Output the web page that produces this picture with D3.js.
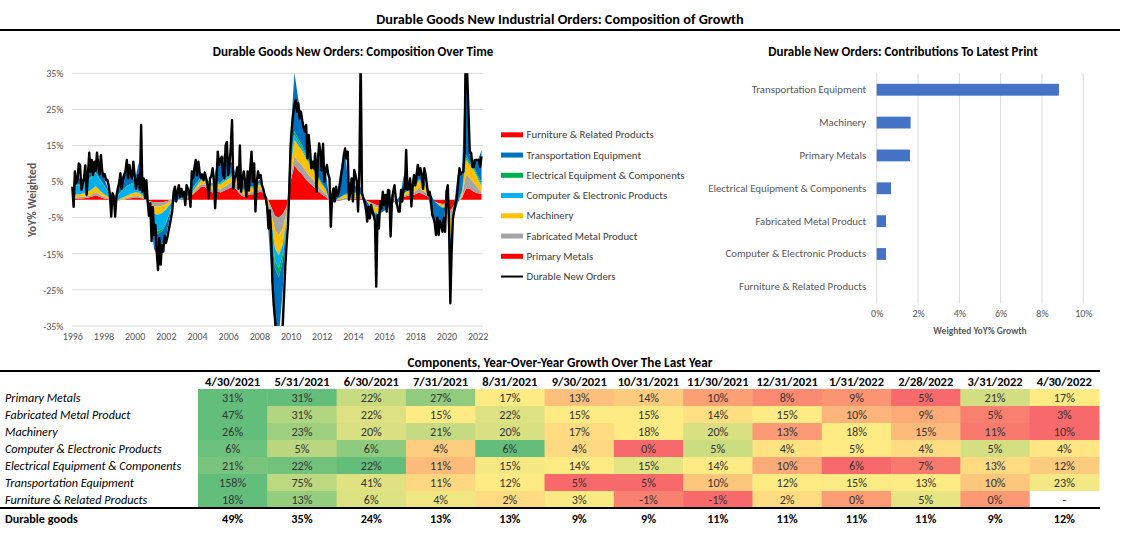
<!DOCTYPE html>
<html>
<head lang="en">
  <meta charset="UTF-8">
  <title>Durable Goods New Industrial Orders: Composition of Growth</title>
  <script src="https://cdn.jsdelivr.net/npm/d3@7"></script>
</head>
<style>
  body { margin: 0; background: #fff; }
  #chart text { font-family: Carlito, Calibri, Lato, sans-serif; }
</style>
<body>

<svg id="chart" width="1126" height="533"></svg>

<script>
  // ---- data: total weighted YoY (monthly, Jan 1996 - Apr 2022) ----
  var totalYoY = [
    3.6, -2.0, 7.8, 4.5, 5.4, 10.0, 9.6, 2.7, 4.5, 6.0, 9.5, 1.3,       // 1996
    6.8, 13.0, 7.8, 11.0, 6.8, 10.5, 8.0, 13.0, 9.6, 7.0, 12.4, 8.0,    // 1997
    6.4, 7.0, 5.4, 5.5, 4.0, 1.3, -4.7, 1.8, 0.8, -4.7, 1.0, 3.0,       // 1998
    4.5, 7.3, 3.0, 5.4, 6.8, 8.0, 11.0, 5.9, 9.6, 7.0, 5.9, 10.5,       // 1999
    6.8, 3.0, 5.0, 6.8, 2.7, 20.7, 2.2, 5.9, 0.4, 5.4, -0.5, -4.5,      // 2000
    -1.0, -11.5, -2.0, -9.8, -7.0, -14.4, -19.5, -10.7, -18.0, -12.6, -14.4, -10.0, // 2001
    -12.0, -10.7, -9.0, -7.0, -5.2, -3.0, 2.0, 3.6, -0.5, 2.2, 4.0, 0.8, // 2002
    3.0, 1.0, 2.2, -1.5, 4.0, 3.0, 2.2, -2.0, 7.8, 6.0, 8.7, 11.0,      // 2003
    6.8, 10.5, 7.8, 6.0, 7.0, 5.4, 7.5, 6.0, 4.0, 0.4, 5.9, 6.5,        // 2004
    8.7, 5.0, -2.4, 5.0, 13.3, 9.6, 11.0, 11.9, 7.0, 5.9, 15.0, 16.0,   // 2005
    6.8, 10.0, 14.2, 22.0, 3.0, 6.0, 6.8, 9.0, 3.0, 15.0, 2.2, 6.0,     // 2006
    7.8, 5.0, 0.8, 7.8, 2.5, 8.7, 13.3, 5.0, 10.0, -3.3, 5.0, 7.8,      // 2007
    6.0, 6.8, 4.0, 3.0, 1.3, 0.4, -2.0, -8.0, -3.0, -9.0, -22.7, -29.0, // 2008
    -33.0, -38.0, -40.0, -40.0, -38.0, -36.0, -34.7, -26.4, -18.0, -12.0, -7.0, 2.2, // 2009
    15.0, 20.0, 23.5, 26.2, 27.6, 24.4, 26.7, 22.5, 24.4, 22.0, 20.0, 18.8, // 2010
    20.7, 11.4, 17.9, 14.0, 8.7, 10.5, 8.7, 12.8, 2.2, 10.5, 15.6, 13.3, // 2011
    8.0, 15.5, 5.0, 8.0, 9.6, 7.0, 5.9, -7.5, 1.0, 3.1, -0.5, 3.6,      // 2012
    1.0, 2.0, 4.0, 6.8, 9.0, 12.4, 14.2, 11.4, 13.3, 0.0, 2.2, 5.9,     // 2013
    -0.5, 8.2, 6.8, 5.0, -3.3, 8.0, 40.0, 2.0, 0.4, -0.5, -2.0, -6.1,   // 2014
    -2.0, -5.2, -1.5, -3.0, -4.3, -6.0, -24.1, -4.3, -8.0, -0.5, -2.4, 2.2, // 2015
    -1.5, 1.3, -3.3, 2.7, 2.5, -10.2, -1.0, 2.2, 4.0, 0.4, -1.5, -3.3,  // 2016
    -3.3, 2.7, -0.5, 3.1, 3.0, 13.8, 2.7, 3.1, 5.9, -1.9, 4.0, 6.8,     // 2017
    4.0, 7.0, 9.6, 6.8, 8.7, 7.0, 3.0, 8.7, 6.8, 4.0, 1.3, 2.2,         // 2018
    0.4, -4.2, -5.0, -6.5, -9.8, -5.0, -9.8, -6.0, -7.0, -8.9, -5.0, -8.9, // 2019
    2.2, 4.0, -6.0, -28.7, -14.4, -5.2, -3.0, -1.0, 0.4, 5.0, 8.7, 7.0, // 2020
    7.5, 7.8, 13.3, 49.0, 35.0, 24.0, 13.0, 13.0, 9.0, 9.0, 11.0, 11.0, // 2021
    11.0, 11.0, 9.0, 12.0                                                // 2022
  ];

  // ---- data: weighted contributions (quarterly samples: Jan/Apr/Jul/Oct) ----
  var primaryMetals = [
    0.3, 0.3, 0.3, 0.4,   0.5, 0.8, 1.2, 0.8,   0.4, 0.2, 0.0, -0.2,  -0.2, 0.0, 0.2, 0.4,
    0.5, 0.5, 0.3, 0.0,   -0.5, -0.7, -0.8, -0.7,  -0.5, -0.2, 0.0, 0.0,  0.1, 0.2, 0.5, 1.5,
    2.5, 3.5, 3.5, 2.5,   2.0, 2.5, 2.0, 2.5,   3.0, 3.5, 3.0, 1.5,   0.8, 1.2, 1.5, 1.5,
    2.2, 2.0, 0.5, -2.0,  -4.5, -5.0, -4.0, -2.0,  5.0, 9.5, 8.0, 7.0,  5.5, 4.5, 3.5, 2.5,
    1.5, 0.8, -0.3, -0.5,  -0.3, -0.2, 0.0, 0.1,  0.2, 0.3, 0.3, 0.0,  -0.5, -1.0, -1.5, -1.5,
    -1.2, -0.8, -0.3, 0.0,  0.5, 0.8, 1.0, 1.2,  1.5, 2.0, 1.5, 1.0,  0.3, -0.5, -1.0, -1.2,
    -1.0, -3.0, -1.5, -0.5,  0.5, 3.0, 3.0, 2.2,  1.8, 1.6
  ];
  var fabricatedMetal = [
    0.3, 0.3, 0.4, 0.4,   0.5, 0.5, 0.8, 0.6,   0.4, 0.3, 0.1, 0.0,   0.1, 0.2, 0.3, 0.4,
    0.5, 0.5, 0.3, 0.0,   -0.4, -1.2, -1.2, -1.0,  -0.8, -0.4, 0.0, 0.0,  0.0, 0.0, 0.1, 0.4,
    0.6, 0.8, 0.8, 0.8,   0.8, 0.8, 0.8, 1.0,   1.2, 1.5, 1.5, 1.0,   0.6, 0.6, 0.6, 0.6,
    0.8, 0.6, 0.0, -1.5,  -4.0, -5.0, -4.0, -1.5,  1.5, 2.5, 2.5, 2.5,  2.3, 2.0, 1.8, 1.5,
    1.2, 1.0, 0.5, 0.3,   0.3, 0.4, 0.5, 0.5,   0.6, 0.6, 0.5, 0.3,   -0.2, -0.5, -0.7, -0.7,
    -0.6, -0.5, -0.3, -0.1,  0.1, 0.3, 0.5, 0.6,  0.8, 1.3, 1.0, 0.8,  0.3, 0.0, -0.2, -0.4,
    -0.5, -3.0, -1.0, -0.2,  0.5, 4.0, 3.0, 2.5,  1.5, 0.45
  ];
  var machinery = [
    0.5, 0.8, 0.8, 1.0,   1.2, 1.5, 1.8, 1.2,   0.8, 0.5, 0.0, -0.2,  0.2, 0.4, 0.6, 0.8,
    1.0, 1.0, 0.6, 0.0,   -0.8, -2.0, -2.2, -2.0,  -1.5, -0.8, -0.2, 0.0,  0.0, 0.0, 0.2, 0.5,
    0.8, 1.0, 1.0, 1.0,   1.0, 1.2, 1.3, 1.5,   1.5, 1.5, 1.5, 1.2,   1.0, 1.2, 1.2, 1.2,
    1.2, 0.6, -0.5, -2.5,  -5.0, -5.5, -4.5, -1.5,  2.5, 4.5, 4.5, 4.0,  3.5, 3.0, 2.5, 2.0,
    1.5, 1.0, 0.0, -0.3,  0.2, 0.5, 0.8, 0.8,   1.0, 0.8, 0.5, 0.2,   -0.5, -1.5, -1.5, -1.3,
    -1.0, -0.8, -0.5, -0.3,  0.2, 0.5, 0.8, 1.0,  1.3, 2.0, 1.5, 1.2,  0.5, 0.0, -0.3, -0.6,
    -0.8, -4.0, -1.5, 0.0,  1.0, 4.0, 3.5, 3.5,  2.5, 1.65
  ];
  var computerElectronic = [
    1.5, 2.5, 2.5, 2.5,   3.0, 3.5, 3.5, 3.0,   2.5, 1.5, 0.3, -0.5,  1.5, 2.0, 2.5, 2.5,
    2.5, 3.0, 2.0, 0.5,   -1.5, -4.0, -4.5, -4.5,  -3.5, -2.0, -0.5, 0.0,  0.3, 0.3, 0.5, 0.8,
    0.8, 0.8, 0.6, 0.5,   0.4, 0.4, 0.4, 0.5,   0.5, 0.5, 0.4, 0.3,   0.3, 0.3, 0.2, 0.2,
    0.3, 0.2, -0.3, -1.2,  -3.5, -3.5, -2.5, -0.5,  1.2, 1.5, 1.0, 0.8,  0.5, 0.3, 0.3, 0.2,
    0.2, 0.0, -0.3, -0.3,  0.0, 0.1, 0.1, 0.1,   0.1, 0.1, 0.1, 0.0,   0.0, -0.2, -0.3, -0.2,
    -0.2, -0.2, 0.0, 0.0,  0.1, 0.1, 0.1, 0.1,   0.2, 0.2, 0.2, 0.1,   0.0, 0.0, 0.0, 0.0,
    0.1, -0.3, 0.1, 0.2,  0.3, 0.6, 0.4, 0.4,   0.4, 0.45
  ];
  var electricalEquip = [
    0.2, 0.3, 0.3, 0.3,   0.3, 0.3, 0.3, 0.3,   0.2, 0.2, 0.1, 0.0,   0.1, 0.2, 0.2, 0.3,
    0.3, 0.3, 0.2, 0.0,   -0.2, -0.5, -0.7, -0.6,  -0.5, -0.3, 0.0, 0.0,  0.0, 0.0, 0.1, 0.2,
    0.2, 0.2, 0.2, 0.2,   0.2, 0.2, 0.3, 0.3,   0.3, 0.3, 0.3, 0.3,   0.2, 0.2, 0.2, 0.2,
    0.2, 0.1, 0.0, -0.6,  -2.0, -2.5, -2.0, -0.3,  0.5, 1.0, 0.8, 0.8,  0.6, 0.5, 0.4, 0.3,
    0.3, 0.2, 0.0, 0.0,   0.1, 0.1, 0.2, 0.2,   0.2, 0.2, 0.1, 0.0,   0.0, -0.1, -0.2, -0.1,
    -0.1, -0.1, 0.0, 0.0,  0.0, 0.1, 0.1, 0.1,   0.1, 0.2, 0.2, 0.2,   0.1, 0.0, 0.0, -0.1,
    0.0, -0.5, -0.1, 0.0,  0.3, 0.8, 0.6, 0.6,   0.6, 0.7
  ];
  var transportation = [
    0.3, 2.4, 1.3, 1.0,   3.7, 2.8, 2.6, 3.2,   2.0, 0.9, -1.2, 0.7,  3.2, 3.9, 5.0, 3.3,
    0.1, 4.8, -0.6, -0.4,  -1.4, -5.3, -6.0, -3.5,  -3.8, -1.3, 2.4, 2.3,  1.7, 1.3, 1.3, 5.2,
    3.5, 0.3, 0.5, 0.0,   0.0, 4.2, 5.2, 6.8,   3.8, 3.0, 0.0, 3.4,   1.6, 2.8, 5.7, 0.0,
    0.9, 0.0, -3.7, -11.2,  -17.7, -16.5, -8.0, 0.2,  7.3, 16.0, 11.0, 6.4,  5.0, 1.5, 0.5, 6.5,
    5.0, 5.0, -0.2, 3.0,  2.0, 8.5, 11.4, 1.0,  2.7, 1.2, 2.0, -3.4,  -1.7, -1.1, -2.0, 0.5,
    1.9, 0.7, 2.8, -1.1,  -1.3, 4.8, 1.4, 0.0,  3.0, 1.8, 1.8, -0.8,  -4.1, -6.6, -6.1, -5.3,
    2.3, -8.0, 3.0, 8.0,  5.0, 30.0, 2.0, 1.8,  4.0, 8.8
  ];
  var furniture = [
    0.05, 0.1, 0.1, 0.1,  0.1, 0.1, 0.15, 0.1,  0.1, 0.05, 0.05, 0.05,  0.05, 0.1, 0.1, 0.1,
    0.1, 0.1, 0.05, 0.0,  -0.05, -0.1, -0.15, -0.15,  -0.1, -0.05, 0.0, 0.05,  0.0, 0.0, 0.05, 0.05,
    0.1, 0.1, 0.1, 0.05,  0.05, 0.05, 0.1, 0.1,  0.05, 0.0, 0.0, -0.05,  -0.05, -0.05, -0.05, -0.05,
    -0.1, -0.1, -0.1, -0.2,  -0.3, -0.3, -0.2, -0.1,  0.05, 0.1, 0.05, 0.0,  0.0, 0.0, 0.0, 0.0,
    0.05, 0.05, 0.05, 0.05,  0.05, 0.05, 0.05, 0.05,  0.05, 0.05, 0.05, 0.05,  0.05, 0.05, 0.05, 0.05,
    0.05, 0.0, 0.0, 0.0,  0.0, 0.05, 0.05, 0.05,  0.05, 0.05, 0.05, 0.05,  0.05, 0.0, 0.0, 0.0,
    0.0, -0.2, 0.0, 0.05,  0.1, 0.15, 0.05, 0.05,  0.05, 0.0
  ];

  // ---- data: contributions to latest print ----
  var latestCategories = ['Transportation Equipment', 'Machinery', 'Primary Metals',
    'Electrical Equipment & Components', 'Fabricated Metal Product',
    'Computer & Electronic Products', 'Furniture & Related Products'];
  var latestValues = [8.82, 1.64, 1.61, 0.69, 0.45, 0.45, 0];

  // ---- data: component YoY growth table ----
  var tableDates = ['4/30/2021', '5/31/2021', '6/30/2021', '7/31/2021', '8/31/2021', '9/30/2021',
    '10/31/2021', '11/30/2021', '12/31/2021', '1/31/2022', '2/28/2022', '3/31/2022', '4/30/2022'];
  var tableNames = ['Primary Metals', 'Fabricated Metal Product', 'Machinery',
    'Computer & Electronic Products', 'Electrical Equipment & Components',
    'Transportation Equipment', 'Furniture & Related Products'];
  var rowPrimary = [31, 31, 22, 27, 17, 13, 14, 10, 8, 9, 5, 21, 17];
  var rowFabricated = [47, 31, 22, 15, 22, 15, 15, 14, 15, 10, 9, 5, 3];
  var rowMachinery = [26, 23, 20, 21, 20, 17, 18, 20, 13, 18, 15, 11, 10];
  var rowComputer = [6.3, 5.4, 5.9, 3.6, 6.4, 4.0, 0.3, 5.2, 4.3, 4.6, 4.1, 5.1, 4.4];
  var rowElectrical = [21.2, 21.6, 22.4, 11, 14.6, 14, 15.4, 14, 10, 6, 7, 13, 12];
  var rowTransport = [158, 75, 41, 11, 12, 5, 5, 10, 12, 15, 13, 10, 23];
  var rowFurniture = [18, 13, 6, 4, 2, 3, -0.6, -1.3, 2, 0.2, 5, 0.1, null];
  var rowDurable = [49, 35, 24, 13, 13, 9, 9, 11, 11, 11, 11, 9, 12];

  var svg = d3.select('#chart');
  var axisGrey = '#595959';
  var gridGrey = '#d9d9d9';

  // ---- titles ----
  svg.append('text')
    .attr('x', 560).attr('y', 24)
    .attr('text-anchor', 'middle')
    .style('font-size', '14.3px').style('font-weight', 'bold')
    .text('Durable Goods New Industrial Orders: Composition of Growth');
  svg.append('line')
    .attr('x1', 0).attr('x2', 1120).attr('y1', 30).attr('y2', 30)
    .attr('stroke', '#000').attr('stroke-width', 2);

  svg.append('text')
    .attr('x', 353).attr('y', 55.5)
    .attr('text-anchor', 'middle')
    .style('font-size', '13px').style('font-weight', 'bold')
    .text('Durable Goods New Orders: Composition Over Time');
  svg.append('text')
    .attr('x', 903).attr('y', 55.5)
    .attr('text-anchor', 'middle')
    .style('font-size', '13px').style('font-weight', 'bold')
    .text('Durable New Orders: Contributions To Latest Print');

  // ---- left chart: stacked composition over time ----
  var x = d3.scaleTime()
    .domain([new Date(1996, 0, 1), new Date(2022, 3, 1)])
    .range([72.3, 481.5]);
  var y = d3.scaleLinear().domain([-35, 35]).range([326, 73.3]);
  var yTicks = [-35, -25, -15, -5, 5, 15, 25, 35];

  svg.append('g').selectAll('line')
    .data(yTicks)
    .enter().append('line')
      .attr('x1', 72).attr('x2', 483)
      .attr('y1', function(d) { return y(d); })
      .attr('y2', function(d) { return y(d); })
      .attr('stroke', gridGrey).attr('stroke-width', 1);

  svg.append('clipPath').attr('id', 'plotClip')
    .append('rect').attr('x', 70).attr('y', y(35)).attr('width', 415).attr('height', y(-35) - y(35));

  var compKeys = ['primary', 'fabricated', 'machinery', 'computer', 'electrical', 'transport', 'furniture'];
  var compColors = {
    primary: '#ff0000', fabricated: '#a5a5a5', machinery: '#ffc000', computer: '#00b0f0',
    electrical: '#00b050', transport: '#0070c0', furniture: '#ff0000'
  };
  var compRows = primaryMetals.map(function(v, i) {
    return {
      date: new Date(1996, i * 3, 1),
      primary: v,
      fabricated: fabricatedMetal[i],
      machinery: machinery[i],
      computer: computerElectronic[i],
      electrical: electricalEquip[i],
      transport: transportation[i],
      furniture: furniture[i]
    };
  });
  var series = d3.stack().keys(compKeys).offset(d3.stackOffsetNone)(compRows);

  var area = d3.area()
    .x(function(d) { return x(d.data.date); })
    .y0(function(d) { return y(d[0]); })
    .y1(function(d) { return y(d[1]); });

  var plot = svg.append('g').attr('clip-path', 'url(#plotClip)');
  plot.selectAll('path.layer')
    .data(series)
    .enter().append('path')
      .attr('class', 'layer')
      .attr('d', area)
      .attr('fill', function(d) { return compColors[d.key]; });

  var line = d3.line()
    .x(function(d, i) { return x(new Date(1996, i, 1)); })
    .y(function(d) { return y(d); });
  plot.append('path')
    .datum(totalYoY)
    .attr('d', line)
    .attr('fill', 'none')
    .attr('stroke', '#000')
    .attr('stroke-width', 2.4)
    .attr('stroke-linejoin', 'round');

  var yAxis = svg.append('g')
    .attr('transform', 'translate(72,0)')
    .call(d3.axisLeft(y).tickValues(yTicks).tickSize(0).tickPadding(8.5)
      .tickFormat(function(d) { return d + '%'; }));
  yAxis.select('.domain').remove();
  yAxis.selectAll('text').attr('fill', axisGrey).style('font-size', '10px');

  var xAxis = svg.append('g')
    .attr('transform', 'translate(0,326)')
    .call(d3.axisBottom(x).ticks(d3.timeYear.every(2)).tickSize(0).tickPadding(7)
      .tickFormat(d3.timeFormat('%Y')));
  xAxis.select('.domain').remove();
  xAxis.selectAll('text').attr('fill', axisGrey).style('font-size', '10px');

  svg.append('text')
    .attr('transform', 'translate(36,200) rotate(-90)')
    .attr('text-anchor', 'middle')
    .attr('fill', axisGrey)
    .style('font-size', '11.5px').style('font-weight', 'bold')
    .text('YoY% Weighted');

  // legend
  var legendItems = [
    { name: 'Furniture & Related Products', key: 'furniture' },
    { name: 'Transportation Equipment', key: 'transport' },
    { name: 'Electrical Equipment & Components', key: 'electrical' },
    { name: 'Computer & Electronic Products', key: 'computer' },
    { name: 'Machinery', key: 'machinery' },
    { name: 'Fabricated Metal Product', key: 'fabricated' },
    { name: 'Primary Metals', key: 'primary' },
    { name: 'Durable New Orders', key: 'total' }
  ];
  var legend = svg.append('g').selectAll('g')
    .data(legendItems)
    .enter().append('g')
      .attr('transform', function(d, i) { return 'translate(501,' + (134.8 + i * 20.25) + ')'; });
  legend.append('rect')
    .attr('x', 0).attr('y', function(d) { return d.key === 'total' ? -1 : -2.5; })
    .attr('width', 22)
    .attr('height', function(d) { return d.key === 'total' ? 2 : 5; })
    .attr('fill', function(d) { return d.key === 'total' ? '#000' : compColors[d.key]; });
  legend.append('text')
    .attr('x', 25.5).attr('y', 3.6)
    .attr('fill', '#404040')
    .style('font-size', '10.8px')
    .text(function(d) { return d.name; });

  // ---- right chart: contributions to latest print ----
  var xb = d3.scaleLinear().domain([0, 10]).range([876.7, 1083.3]);
  var yb = d3.scaleBand().domain(latestCategories).range([73.3, 303.3])
    .paddingInner(0.64).paddingOuter(0.32);

  svg.append('g').selectAll('line')
    .data(xb.ticks(5))
    .enter().append('line')
      .attr('x1', function(d) { return xb(d); })
      .attr('x2', function(d) { return xb(d); })
      .attr('y1', 73.3).attr('y2', 303.3)
      .attr('stroke', gridGrey);

  svg.append('g').selectAll('rect')
    .data(latestValues)
    .enter().append('rect')
      .attr('x', xb(0))
      .attr('y', function(d, i) { return yb(latestCategories[i]); })
      .attr('width', function(d) { return xb(d) - xb(0); })
      .attr('height', yb.bandwidth())
      .attr('fill', '#4472c4');

  var xbAxis = svg.append('g')
    .attr('transform', 'translate(0,303.3)')
    .call(d3.axisBottom(xb).ticks(5).tickSize(0).tickPadding(7)
      .tickFormat(function(d) { return d + '%'; }));
  xbAxis.select('.domain').remove();
  xbAxis.selectAll('text').attr('fill', axisGrey).style('font-size', '10px');

  var ybAxis = svg.append('g')
    .attr('transform', 'translate(876.7,0)')
    .call(d3.axisLeft(yb).tickSize(0).tickPadding(10.5));
  ybAxis.select('.domain').remove();
  ybAxis.selectAll('text').attr('fill', axisGrey).style('font-size', '10.8px');

  svg.append('text')
    .attr('x', 980).attr('y', 334)
    .attr('text-anchor', 'middle')
    .attr('fill', axisGrey)
    .style('font-size', '9.5px').style('font-weight', 'bold')
    .text('Weighted YoY% Growth');

  // ---- table ----
  var tableRows = [rowPrimary, rowFabricated, rowMachinery, rowComputer,
    rowElectrical, rowTransport, rowFurniture];
  var col = d3.scaleBand().domain(tableDates).range([198, 1099]);
  var rowH = 17, rowTop = 389;

  svg.append('text')
    .attr('x', 560).attr('y', 366.5)
    .attr('text-anchor', 'middle')
    .style('font-size', '13.2px').style('font-weight', 'bold')
    .text('Components, Year-Over-Year Growth Over The Last Year');
  svg.append('line')
    .attr('x1', 0).attr('x2', 1100).attr('y1', 371).attr('y2', 371)
    .attr('stroke', '#000').attr('stroke-width', 2);

  svg.append('g').selectAll('text')
    .data(tableDates)
    .enter().append('text')
      .attr('x', function(d) { return col(d) + col.bandwidth() / 2; })
      .attr('y', 385.5)
      .attr('text-anchor', 'middle')
      .style('font-size', '12.5px').style('font-weight', 'bold')
      .text(function(d) { return d; });

  function rowColor(values) {
    var vals = values.filter(function(v) { return v !== null; });
    return d3.scaleLinear()
      .domain([d3.min(vals), d3.median(vals), d3.max(vals)])
      .range(['#f8696b', '#ffeb84', '#63be7b'])
      .interpolate(d3.interpolateRgb);
  }

  tableRows.forEach(function(values, r) {
    var color = rowColor(values);
    var top = rowTop + r * rowH;
    var g = svg.append('g');
    g.append('text')
      .attr('x', 5).attr('y', top + 12.8)
      .style('font-size', '12.2px').style('font-style', 'italic')
      .text(tableNames[r]);
    var cells = g.selectAll('g')
      .data(values)
      .enter().append('g');
    cells.append('rect')
      .attr('x', function(d, i) { return col(tableDates[i]); })
      .attr('y', top)
      .attr('width', col.bandwidth() + 0.5)
      .attr('height', rowH + 0.5)
      .attr('fill', function(d) { return d === null ? '#fff' : color(d); });
    cells.append('text')
      .attr('x', function(d, i) { return col(tableDates[i]) + col.bandwidth() / 2; })
      .attr('y', top + 12.8)
      .attr('text-anchor', 'middle')
      .attr('fill', '#333')
      .style('font-size', '12.2px')
      .text(function(d) { return d === null ? '-' : Math.round(d) + '%'; });
  });

  svg.append('line')
    .attr('x1', 0).attr('x2', 1100).attr('y1', 508).attr('y2', 508)
    .attr('stroke', '#000').attr('stroke-width', 2);

  svg.append('text')
    .attr('x', 5).attr('y', 522.5)
    .style('font-size', '12.2px').style('font-weight', 'bold')
    .text('Durable goods');
  svg.append('g').selectAll('text')
    .data(rowDurable)
    .enter().append('text')
      .attr('x', function(d, i) { return col(tableDates[i]) + col.bandwidth() / 2; })
      .attr('y', 522.5)
      .attr('text-anchor', 'middle')
      .style('font-size', '12.2px').style('font-weight', 'bold')
      .text(function(d) { return d + '%'; });
</script>
</body>
</html>
